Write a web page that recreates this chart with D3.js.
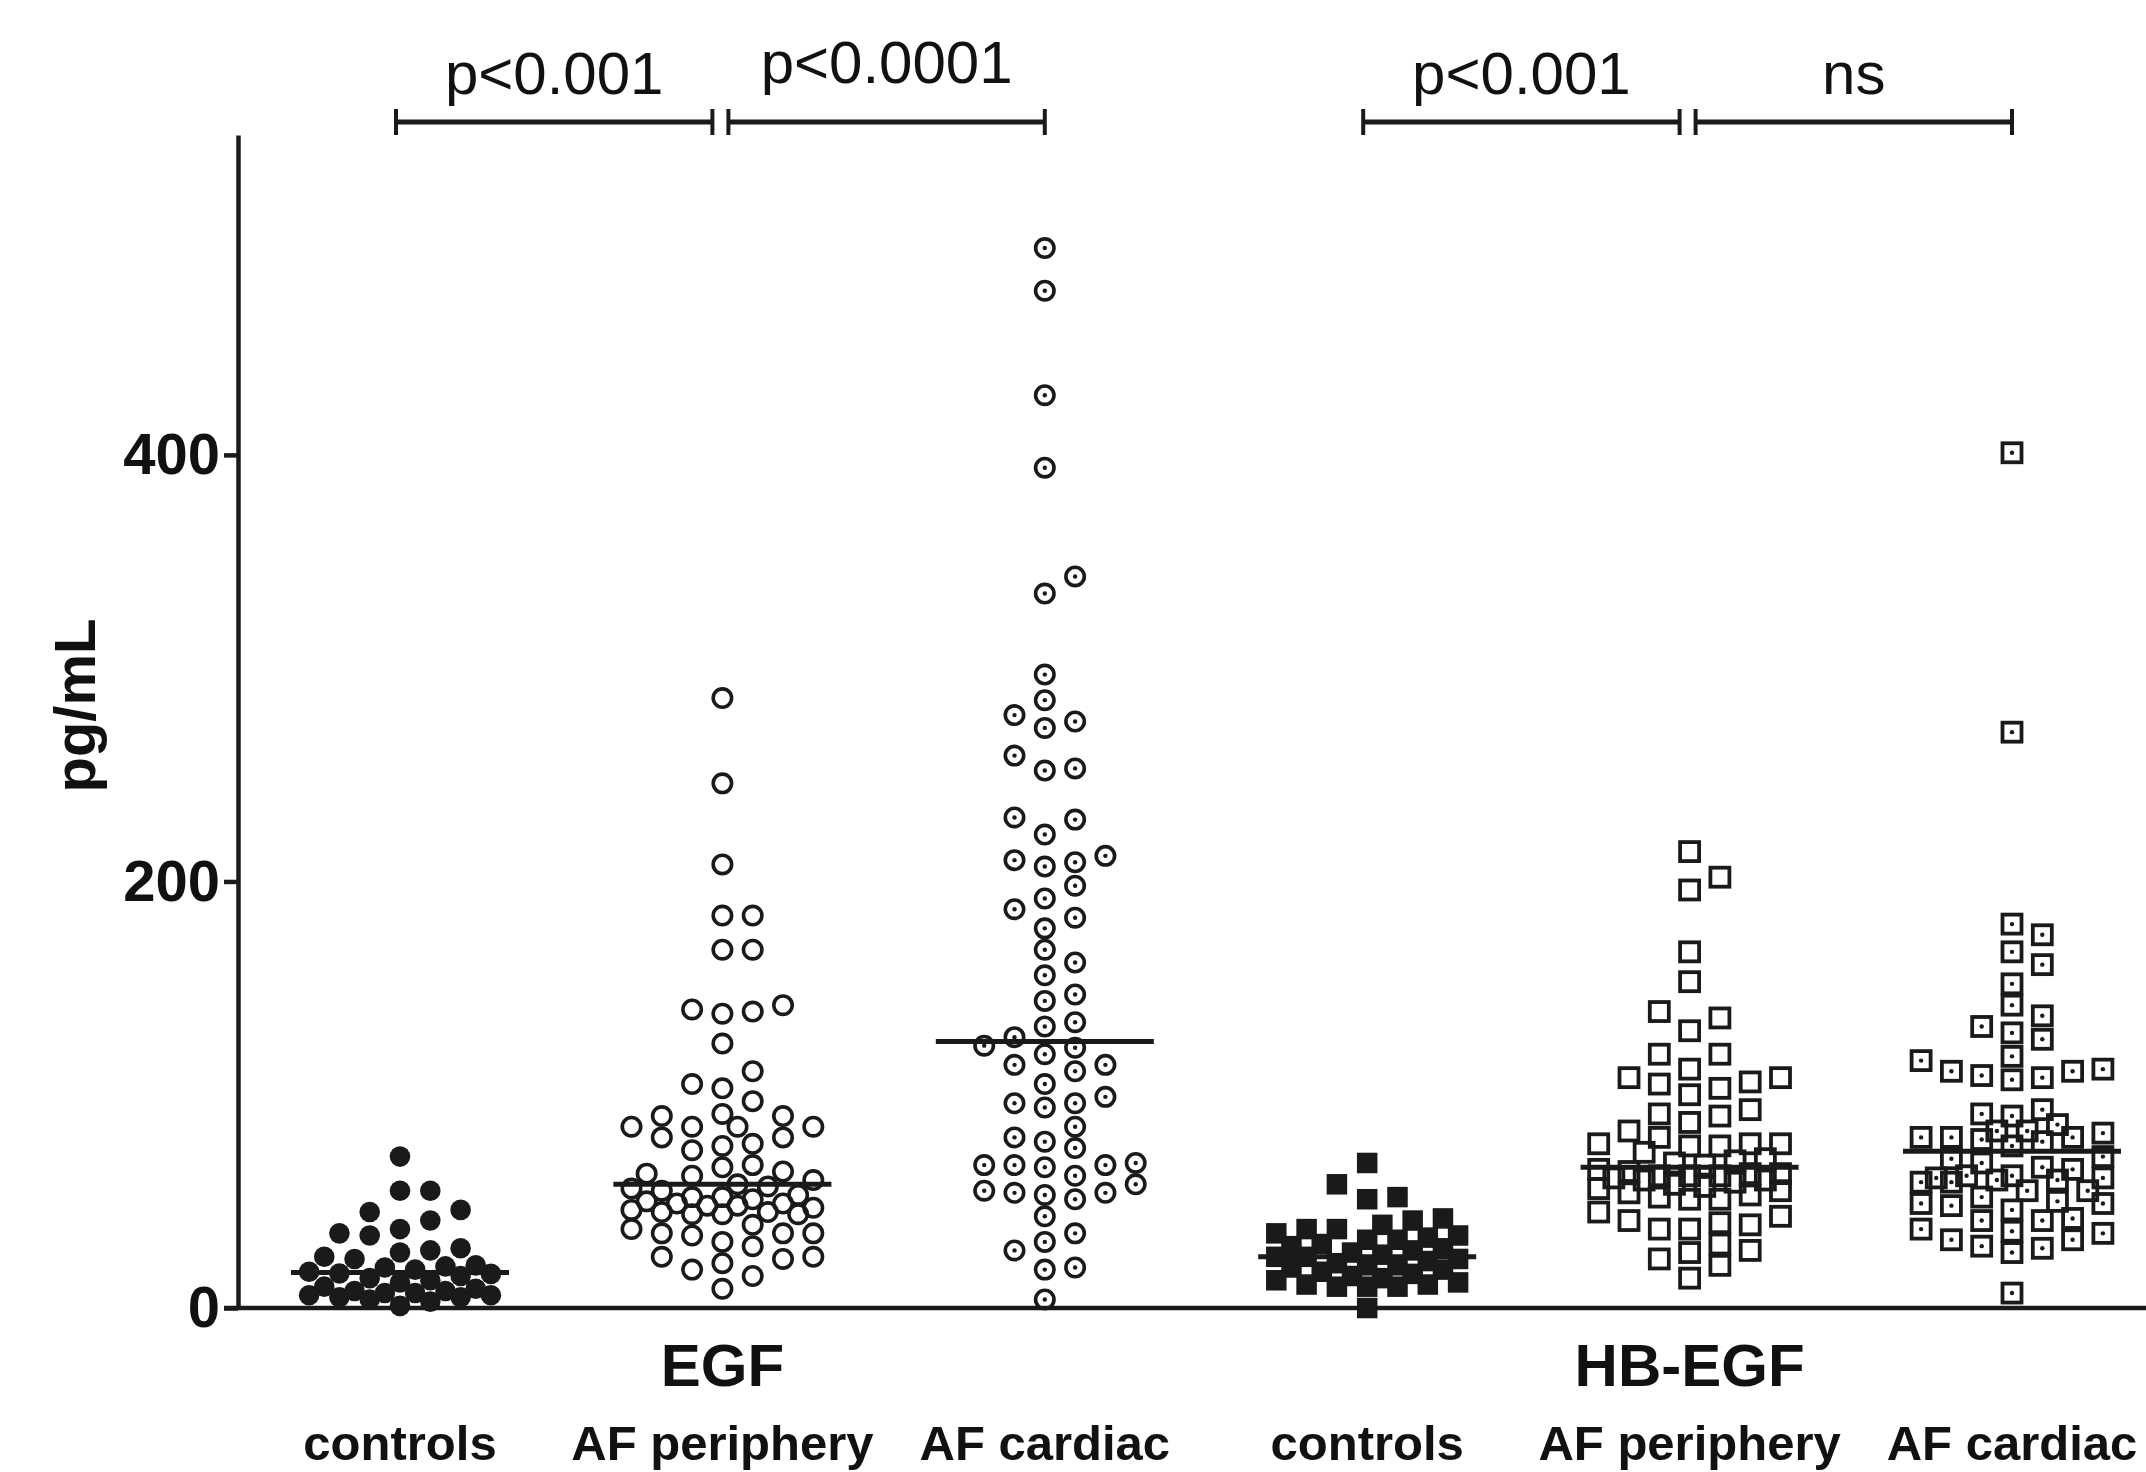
<!DOCTYPE html>
<html>
<head>
<meta charset="utf-8">
<script src="https://cdn.jsdelivr.net/npm/d3@7"></script>
<style>
  body { margin: 0; background: #ffffff; }
  svg { display: block; font-family: "Liberation Sans", Arial, sans-serif; }
</style>
</head>
<body>
<div id="chart"></div>
<script>
// Category labels along the x axis, and the two analyte group titles
const categories = ["controls", "AF periphery", "AF cardiac", "controls", "AF periphery", "AF cardiac"];
const analytes = ["EGF", "HB-EGF"];
const analyteCenter = [1, 4]; // index of the category under each title

// Values (pg/mL)
const egfControls = [71, 55, 55, 46, 45, 41, 37, 35, 34, 28, 27, 26, 24, 23, 20, 19.5, 19, 18, 17,
  16.2, 16, 15, 14, 13, 12, 10, 9, 8, 8, 7, 7, 6, 6, 5, 5, 4, 3, 1];
const egfPeriphery = [286, 246, 208, 184, 184, 168, 168, 142, 140, 139, 138, 124, 111, 105, 103, 97,
  91, 90, 90, 85, 85, 85, 85, 80, 80, 77, 76, 74, 67, 66, 64, 63, 62, 60, 58,
  57, 56, 55, 53, 52, 52, 51, 50, 49, 49, 48, 48, 47, 46, 45, 45, 44, 44, 44, 39,
  37, 35, 35, 35, 34, 31, 29, 24, 24, 23, 21, 18, 15, 9];
const egfCardiac = [497, 477, 428, 394, 343, 335, 297, 285, 278, 275, 272, 259, 253, 252, 230, 229,
  222, 212, 210, 209, 207, 198, 192, 187, 183, 178, 168, 162, 156, 147, 144, 134, 132, 127,
  123, 122, 119, 114, 114, 111, 105, 99, 96, 96, 94, 85, 80, 78, 75, 68, 67, 67, 67, 66,
  62, 58, 55, 54, 54, 53, 51, 43, 35, 31, 27, 19, 18, 4];
const hbControls = [68, 58, 52, 51, 42, 41, 39, 37, 37, 35, 34, 33, 32, 32, 30, 29, 28, 27, 26, 25,
  24, 24, 23, 22, 21, 20, 20, 19, 18, 17, 16, 15, 14, 13, 12, 11, 11, 10, 10, 10, 0];
const hbPeriphery = [214, 202, 196, 167, 153, 139, 136, 130, 119, 119, 112, 108, 108, 106, 105, 103,
  100, 93, 91, 90, 87, 83, 80, 77, 77, 77, 76, 76, 73, 70, 69, 68, 67,
  65, 64, 63, 63, 62, 61, 60, 59, 58, 57, 56, 55, 54, 53,
  62, 62, 60, 52, 51, 51, 45, 43, 41, 40, 39, 37, 37, 30, 27, 26, 23, 20, 14];
const hbCardiac = [401, 270, 180, 175, 167, 161, 152, 142, 137, 132, 129, 126, 118, 116, 112, 111,
  111, 109, 108, 107, 93, 91, 90, 86, 83, 83, 82, 80, 80, 80, 79, 78, 76, 71, 70, 68, 66,
  65, 62, 62, 61, 61, 60, 60, 59, 59, 55, 55, 52, 50, 49, 49, 48, 46, 42, 41, 41, 37, 36,
  35, 32, 32, 29, 28, 26, 7];

const seriesValues = [egfControls, egfPeriphery, egfCardiac, hbControls, hbPeriphery, hbCardiac];

// Significance brackets between neighbouring categories
const comparisons = [
  { from: 0, to: 1, label: "p<0.001" },
  { from: 1, to: 2, label: "p<0.0001" },
  { from: 3, to: 4, label: "p<0.001" },
  { from: 4, to: 5, label: "ns" }
];

const yTicks = [0, 200, 400];
const yLabel = "pg/mL";

// ---- drawing ----
const width = 2146, height = 1472;
const INK = "#1a1a1a";
const markerKinds = ["circleFilled", "circleOpen", "circleDot", "squareFilled", "squareOpen", "squareDot"];

const svg = d3.select("#chart").append("svg")
  .attr("width", width)
  .attr("height", height)
  .attr("viewBox", `0 0 ${width} ${height}`);

svg.append("rect").attr("width", width).attr("height", height).attr("fill", "#ffffff");

const x = d3.scalePoint()
  .domain(d3.range(categories.length))
  .range([400, 2012]);

const y = d3.scaleLinear()
  .domain([0, 550])
  .range([1308, 135]);

const axisX = 238;

// y axis
const yAxis = svg.append("g")
  .attr("transform", `translate(${axisX},0)`)
  .call(d3.axisLeft(y).tickValues(yTicks).tickSize(14).tickPadding(4).tickSizeOuter(0));
yAxis.select(".domain").attr("stroke", INK).attr("stroke-width", 4.5);
yAxis.selectAll(".tick line").attr("stroke", INK).attr("stroke-width", 4.5);
yAxis.selectAll(".tick text")
  .attr("fill", "#111")
  .style("font-size", "58px")
  .style("font-weight", "bold")
  .style("font-family", '"Liberation Sans", Arial, sans-serif');

// x axis line
svg.append("line")
  .attr("x1", axisX - 14).attr("x2", width)
  .attr("y1", y(0)).attr("y2", y(0))
  .attr("stroke", INK).attr("stroke-width", 4.5);

// y label
svg.append("text")
  .attr("transform", `translate(75,${(y(0) + y(550)) / 2 - 16}) rotate(-90)`)
  .attr("text-anchor", "middle")
  .attr("dy", "0.35em")
  .style("font-size", "58px")
  .style("font-weight", "bold")
  .attr("fill", "#111")
  .text(yLabel);

// category labels
svg.append("g").selectAll("text")
  .data(categories)
  .join("text")
  .attr("x", (d, i) => x(i))
  .attr("y", 1460)
  .attr("text-anchor", "middle")
  .style("font-size", "49px")
  .style("font-weight", "bold")
  .attr("fill", "#111")
  .text(d => d);

// analyte titles
svg.append("g").selectAll("text")
  .data(analytes)
  .join("text")
  .attr("x", (d, i) => x(analyteCenter[i]))
  .attr("y", 1386)
  .attr("text-anchor", "middle")
  .style("font-size", "60px")
  .style("font-weight", "bold")
  .attr("fill", "#111")
  .text(d => d);

// swarm layout: columns at fixed spacing, half columns when crowded
const DIAM = 22, SPACING = 30.3, MAXCOL = 3;
function swarm(values, cx) {
  const cols = [0];
  for (let k = 1; k <= MAXCOL; k++) cols.push(k, -k);
  for (let k = 0; k < MAXCOL; k++) cols.push(k + 0.5, -(k + 0.5));
  const placed = [];
  const out = new Array(values.length);
  const order = d3.range(values.length).sort((a, b) => d3.ascending(values[a], values[b]));
  for (const i of order) {
    const py = y(values[i]);
    let best = 0, bestGap = -1;
    for (const c of cols) {
      const px = cx + c * SPACING;
      const gap = placed.length ? d3.min(placed, p => Math.hypot(p.x - px, p.y - py)) : Infinity;
      if (gap >= DIAM * 0.95) { best = c; bestGap = gap; break; }
      if (gap > bestGap) { bestGap = gap; best = c; }
    }
    const pt = { x: cx + best * SPACING, y: py, v: values[i] };
    placed.push(pt);
    out[i] = pt;
  }
  return out;
}

const pointsLayer = svg.append("g");
seriesValues.forEach((values, gi) => {
  const pts = swarm(values, x(gi));
  const kind = markerKinds[gi];
  const g = pointsLayer.append("g");
  if (kind.startsWith("circle")) {
    const filled = kind === "circleFilled";
    g.selectAll("circle.mark")
      .data(pts)
      .join("circle")
      .attr("class", "mark")
      .attr("cx", d => d.x)
      .attr("cy", d => d.y)
      .attr("r", filled ? 10.3 : 9.2)
      .attr("fill", filled ? INK : "none")
      .attr("stroke", filled ? "none" : INK)
      .attr("stroke-width", 3.6);
  } else {
    const filled = kind === "squareFilled";
    const s = filled ? 20.5 : 19;
    g.selectAll("rect.mark")
      .data(pts)
      .join("rect")
      .attr("class", "mark")
      .attr("x", d => d.x - s / 2)
      .attr("y", d => d.y - s / 2)
      .attr("width", s)
      .attr("height", s)
      .attr("fill", filled ? INK : "none")
      .attr("stroke", filled ? "none" : INK)
      .attr("stroke-width", 3.8);
  }
  if (kind.endsWith("Dot")) {
    g.selectAll("circle.dot")
      .data(pts)
      .join("circle")
      .attr("class", "dot")
      .attr("cx", d => d.x)
      .attr("cy", d => d.y)
      .attr("r", 2.2)
      .attr("fill", INK);
  }
});

// median lines
svg.append("g").selectAll("line")
  .data(seriesValues)
  .join("line")
  .attr("x1", (d, i) => x(i) - 109)
  .attr("x2", (d, i) => x(i) + 109)
  .attr("y1", d => y(d3.median(d)))
  .attr("y2", d => y(d3.median(d)))
  .attr("stroke", INK)
  .attr("stroke-width", 5);

// significance brackets
const bracketY = 122;
const br = svg.append("g");
comparisons.forEach((c, i) => {
  const x1 = x(c.from) + (i % 2 === 1 ? 6 : -4);
  const x2 = x(c.to) - (i % 2 === 0 ? 10 : 0);
  br.append("line")
    .attr("x1", x1).attr("x2", x2)
    .attr("y1", bracketY).attr("y2", bracketY)
    .attr("stroke", INK).attr("stroke-width", 5);
  [x1, x2].forEach(xx => {
    br.append("line")
      .attr("x1", xx).attr("x2", xx)
      .attr("y1", bracketY - 13).attr("y2", bracketY + 13)
      .attr("stroke", INK).attr("stroke-width", 4);
  });
  br.append("text")
    .attr("x", (x1 + x2) / 2)
    .attr("y", c.label === "p<0.0001" ? 83 : 94)
    .attr("text-anchor", "middle")
    .style("font-size", "60px")
    .attr("fill", "#111")
    .text(c.label);
});
</script>
</body>
</html>
